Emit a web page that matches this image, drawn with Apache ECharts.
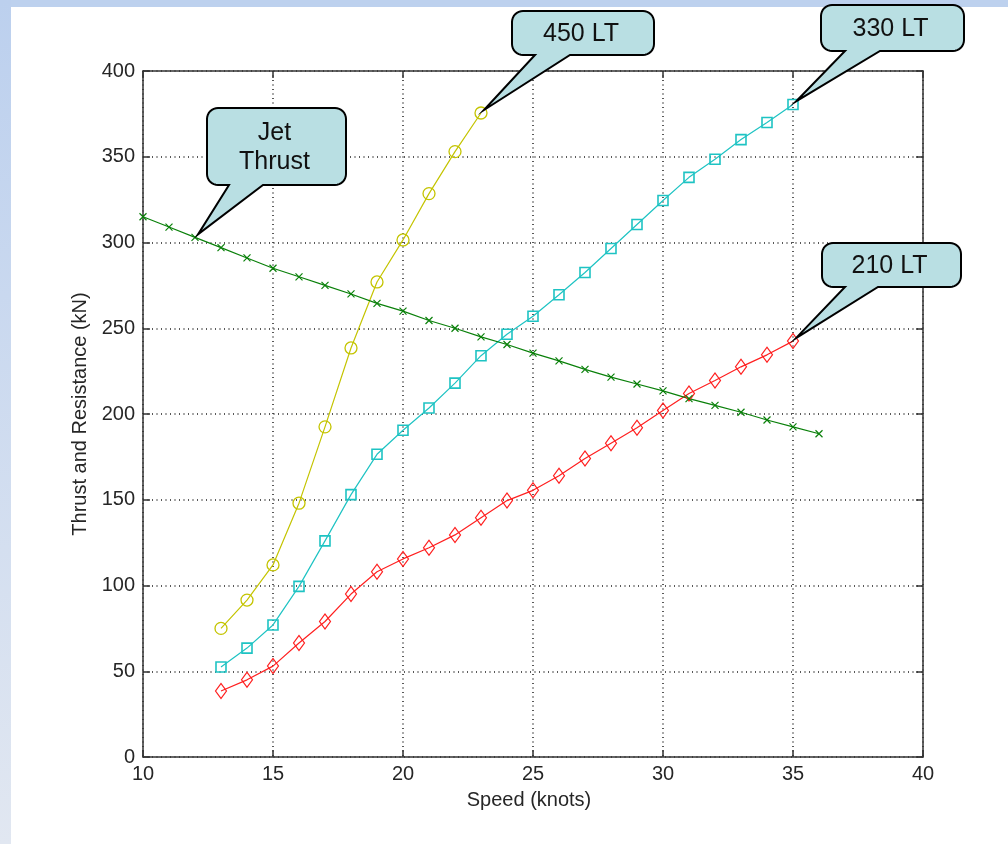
<!DOCTYPE html>
<html>
<head>
<meta charset="utf-8">
<script src="https://cdn.jsdelivr.net/npm/echarts@6/dist/echarts.min.js"></script>
<style>
  html, body { margin: 0; padding: 0; background: #ffffff; }
  #chart { width: 1008px; height: 844px; }
</style>
</head>
<body>
<div id="chart"></div>
<script>
// ---- data ----
const xTicks = [10, 15, 20, 25, 30, 35, 40];
const yTicks = [0, 50, 100, 150, 200, 250, 300, 350, 400];

const jetSpeed = [10, 11, 12, 13, 14, 15, 16, 17, 18, 19, 20, 21, 22, 23, 24, 25, 26, 27, 28, 29, 30, 31, 32, 33, 34, 35, 36];
const jetThrust = [315, 309, 303, 297, 291, 285, 280, 275, 270, 264.5, 260, 254.5, 250, 245, 240.5, 235.5, 231, 226, 221.5, 217.5, 213.5, 209, 205, 201, 196.5, 192.5, 188.5];

const speed450 = [13, 14, 15, 16, 17, 18, 19, 20, 21, 22, 23];
const res450 = [75, 91.5, 112, 148, 192.5, 238.5, 277, 301.5, 328.5, 353, 375.5];

const speed330 = [13, 14, 15, 16, 17, 18, 19, 20, 21, 22, 23, 24, 25, 26, 27, 28, 29, 30, 31, 32, 33, 34, 35];
const res330 = [52.5, 63.5, 77, 99.5, 126, 153, 176.5, 190.5, 203.5, 218, 234, 246.5, 257, 269.5, 282.5, 296.5, 310.5, 324.5, 338, 348.5, 360, 370, 380.5];

const speed210 = [13, 14, 15, 16, 17, 18, 19, 20, 21, 22, 23, 24, 25, 26, 27, 28, 29, 30, 31, 32, 33, 34, 35];
const res210 = [38.5, 45, 53, 66.5, 79, 95, 108, 115.5, 122, 129.5, 139.5, 149.5, 155.5, 164, 174, 183, 192, 202, 212, 219.5, 227.5, 234.5, 242.5];

const calloutLabels = ['450 LT', '330 LT', '210 LT', 'Jet\nThrust'];

// ---- chart ----
const FONT = "'Liberation Sans', Arial, sans-serif";
const pair = (xs, ys) => xs.map((x, i) => [x, ys[i]]);

const chart = echarts.init(document.getElementById('chart'), null, { renderer: 'canvas' });

function mkSeries(name, xs, ys, color, symbol, size, bw) {
  return {
    name: name,
    type: 'line',
    xAxisIndex: 0,
    yAxisIndex: 0,
    data: pair(xs, ys),
    symbol: symbol,
    symbolSize: size,
    showAllSymbol: true,
    lineStyle: { color: color, width: 1.2 },
    itemStyle: { color: 'rgba(0,0,0,0)', borderColor: color, borderWidth: bw },
    emphasis: { disabled: true },
    animation: false,
    z: 3
  };
}

const axisLineStyle = { color: '#333', width: 1.5 };
const labelStyle = { fontFamily: FONT, fontSize: 20, color: '#262626' };

const option = {
  backgroundColor: '#ffffff',
  animation: false,
  grid: { left: 143, top: 71, width: 780, height: 686, containLabel: false },
  xAxis: [
    {
      type: 'value', position: 'bottom', min: xTicks[0], max: xTicks[xTicks.length - 1], interval: 5,
      axisLine: { show: true, onZero: false, lineStyle: axisLineStyle },
      axisTick: { show: true, inside: true, length: 7, lineStyle: axisLineStyle },
      axisLabel: Object.assign({ margin: 7 }, labelStyle),
      splitLine: { show: true, lineStyle: { color: '#222', width: 1.5, type: [1, 3.5] } },
      name: 'Speed (knots)', nameLocation: 'middle', nameGap: 33,
      nameTextStyle: Object.assign({ padding: [0, 8, 0, 0] }, labelStyle)
    },
    {
      type: 'value', position: 'top', min: xTicks[0], max: xTicks[xTicks.length - 1], interval: 5,
      axisLine: { show: true, onZero: false, lineStyle: axisLineStyle },
      axisTick: { show: true, inside: true, length: 7, lineStyle: axisLineStyle },
      axisLabel: { show: false }, splitLine: { show: false }
    }
  ],
  yAxis: [
    {
      type: 'value', position: 'left', min: yTicks[0], max: yTicks[yTicks.length - 1], interval: 50,
      axisLine: { show: true, onZero: false, lineStyle: axisLineStyle },
      axisTick: { show: true, inside: true, length: 7, lineStyle: axisLineStyle },
      axisLabel: Object.assign({ margin: 8 }, labelStyle),
      splitLine: { show: true, lineStyle: { color: '#222', width: 1.5, type: [1, 3.5] } },
      name: 'Thrust and Resistance (kN)', nameLocation: 'middle', nameGap: 52, nameRotate: 90,
      nameTextStyle: labelStyle
    },
    {
      type: 'value', position: 'right', min: yTicks[0], max: yTicks[yTicks.length - 1], interval: 50,
      axisLine: { show: true, onZero: false, lineStyle: axisLineStyle },
      axisTick: { show: true, inside: true, length: 7, lineStyle: axisLineStyle },
      axisLabel: { show: false }, splitLine: { show: false }
    }
  ],
  series: [
    mkSeries('450 LT', speed450, res450, '#c4c400', 'circle', 12, 1.3),
    mkSeries('330 LT', speed330, res330, '#1ec3c3', 'rect', 10, 1.6),
    mkSeries('210 LT', speed210, res210, '#ff2020', 'diamond', [11, 15], 1.2),
    mkSeries('Jet Thrust', jetSpeed, jetThrust, '#0a800a', 'path://M0,0L10,10M10,0L0,10', 7, 1.2)
  ]
};

chart.setOption(option);

// ---- callouts (boxes placed by layout, tips attached to data points) ----
function calloutPoints(x0, y0, x1, y1, r, wa, wb, tx, ty) {
  const pts = [];
  const arc = (cx, cy, a0, a1) => {
    const n = 8;
    for (let i = 0; i <= n; i++) {
      const a = (a0 + (a1 - a0) * i / n) * Math.PI / 180;
      pts.push([cx + r * Math.cos(a), cy + r * Math.sin(a)]);
    }
  };
  arc(x1 - r, y0 + r, -90, 0);
  arc(x1 - r, y1 - r, 0, 90);
  pts.push([wb, y1]);
  pts.push([tx, ty]);
  pts.push([wa, y1]);
  arc(x0 + r, y1 - r, 90, 180);
  arc(x0 + r, y0 + r, 180, 270);
  return pts;
}

function tipOf(xs, ys, idx) {
  const p = chart.convertToPixel({ xAxisIndex: 0, yAxisIndex: 0 }, [xs[idx], ys[idx]]);
  return [p[0] + 3, p[1] - 3];
}

const boxes = [
  { box: [512, 11, 654, 55], wedge: [535, 570], tip: tipOf(speed450, res450, speed450.length - 1), text: calloutLabels[0] },
  { box: [821, 5, 964, 51], wedge: [845, 880], tip: tipOf(speed330, res330, speed330.length - 1), text: calloutLabels[1] },
  { box: [822, 243, 961, 287], wedge: [845, 878], tip: tipOf(speed210, res210, speed210.length - 1), text: calloutLabels[2] },
  { box: [207, 108, 346, 185], wedge: [229, 263], tip: tipOf(jetSpeed, jetThrust, 2), text: calloutLabels[3] }
];

const graphics = [
  { type: 'rect', left: 0, top: 0, shape: { width: 1008, height: 7 }, style: { fill: '#bdd1ee' }, z: 10, silent: true },
  {
    type: 'rect', left: 0, top: 0, shape: { width: 11, height: 844 },
    style: { fill: new echarts.graphic.LinearGradient(0, 0, 0, 1, [{ offset: 0, color: '#bcd0ee' }, { offset: 1, color: '#e1e7f1' }]) },
    z: 10, silent: true
  }
];

boxes.forEach(b => {
  const [x0, y0, x1, y1] = b.box;
  graphics.push({
    type: 'polygon',
    shape: { points: calloutPoints(x0, y0, x1, y1, 11, b.wedge[0], b.wedge[1], b.tip[0], b.tip[1]) },
    style: { fill: '#b9dfe3', stroke: '#000', lineWidth: 2, lineJoin: 'miter' },
    z: 20, silent: true
  });
  graphics.push({
    type: 'text',
    x: (x0 + x1) / 2 - 2,
    y: (y0 + y1) / 2 + 1,
    style: {
      text: b.text, fill: '#111', font: "25px 'Liberation Sans', Arial, sans-serif",
      align: 'center', verticalAlign: 'middle', lineHeight: 29
    },
    z: 21, silent: true
  });
});

chart.setOption({ graphic: graphics });
</script>
</body>
</html>
